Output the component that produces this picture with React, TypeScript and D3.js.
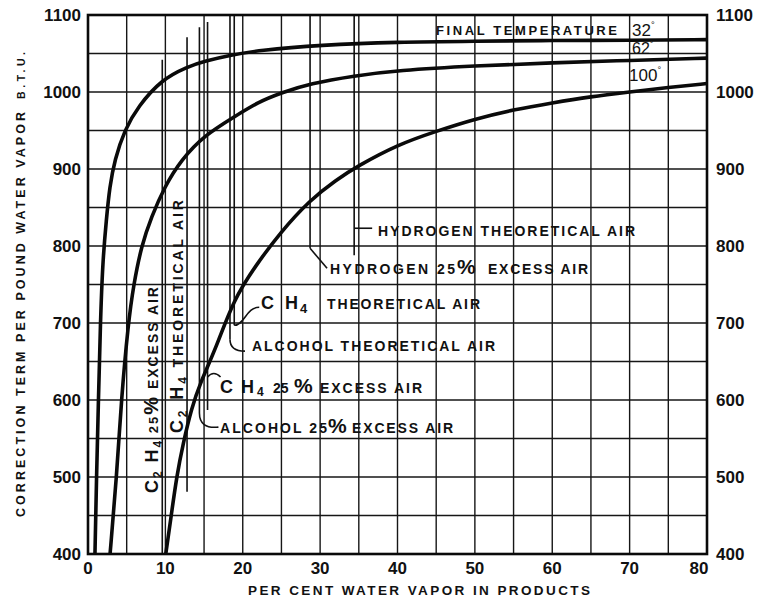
import React, { useRef, useEffect } from "react";
import * as d3 from "d3";

// axis ticks
const xTicks = [0, 10, 20, 30, 40, 50, 60, 70, 80];
const yTicks = [400, 500, 600, 700, 800, 900, 1000, 1100];

// correction term curves, [per cent water vapor, B.T.U.]
const curve32: [number, number][] = [
  [0.9, 400], [1.1, 500], [1.35, 600], [1.6, 700], [1.9, 780], [2.37, 834],
  [2.8, 877], [3.45, 912], [4.74, 951], [6.46, 981], [9.47, 1016], [12.9, 1033],
  [15.07, 1040], [18.5, 1048], [22, 1054], [30, 1061], [40, 1065], [50, 1066],
  [60, 1067], [70, 1067], [80, 1068],
];
const curve62: [number, number][] = [
  [2.85, 400], [3.7, 500], [4.3, 600], [5.2, 700], [5.9, 750], [6.9, 800],
  [8.2, 838], [9.9, 877], [12.05, 912], [15.07, 944], [18.95, 968], [22, 987],
  [25, 999], [28.7, 1011], [34.4, 1021], [40, 1028], [50, 1034], [60, 1038],
  [70, 1041], [80, 1044],
];
const curve100: [number, number][] = [
  [10.05, 400], [10.8, 453], [11.45, 500], [12.3, 544], [13.4, 590], [14.5, 622],
  [16.6, 669], [18.8, 730], [21.7, 775], [24.8, 817], [28.7, 860], [32.1, 886],
  [34.7, 903], [40.1, 932], [45, 949], [50, 965], [55, 977], [60, 986],
  [65, 994], [70, 1000], [75, 1006], [80, 1011],
];

// vertical fuel lines: x position, top and bottom in B.T.U.
const fuelNames = [
  "C2H4 25% excess", "C2H4 theoretical", "Alcohol 25% excess", "CH4 25% excess",
  "Alcohol theoretical", "CH4 theoretical", "Hydrogen 25% excess", "Hydrogen theoretical",
];
const fuelX = [9.6, 12.8, 14.4, 15.45, 18.35, 18.9, 28.7, 34.4];
const fuelTop = [1042, 1071, 1084, 1091, 1100, 1100, 1100, 1100];
const fuelBottom = [400, 481, 583, 587, 679, 697, 797, 788];

const W = 769;
const H = 601;
const FONT = "'Liberation Sans', Arial, sans-serif";

type Piece = { t: string; fs: number; dy?: number; x?: number; len?: number };

const App: React.FC = () => {
  const svgRef = useRef<SVGSVGElement>(null);

  useEffect(() => {
    if (!svgRef.current) return;
    const svg = d3.select(svgRef.current);
    svg.selectAll("*").remove();

    const x = d3.scaleLinear().domain([0, 80]).range([88, 707]);
    const y = d3.scaleLinear().domain([400, 1100]).range([554, 15]);

    svg.append("rect").attr("width", W).attr("height", H).attr("fill", "#fff");

    // grid
    const grid = svg.append("g").attr("stroke", "#161616").attr("stroke-width", 1.4);
    grid.selectAll("line.v")
      .data(d3.range(5, 80, 5))
      .join("line")
      .attr("x1", (d) => x(d)).attr("x2", (d) => x(d))
      .attr("y1", y(1100)).attr("y2", y(400));
    grid.selectAll("line.h")
      .data(d3.range(450, 1100, 50))
      .join("line")
      .attr("x1", x(0)).attr("x2", x(80))
      .attr("y1", (d) => y(d)).attr("y2", (d) => y(d));

    // fuel lines
    const fuel = svg.append("g").attr("stroke", "#111").attr("stroke-width", 1.6).attr("fill", "none");
    fuel.selectAll("line")
      .data(fuelNames)
      .join("line")
      .attr("x1", (_, i) => x(fuelX[i])).attr("x2", (_, i) => x(fuelX[i]))
      .attr("y1", (_, i) => y(fuelTop[i])).attr("y2", (_, i) => y(fuelBottom[i]));

    // leaders to the labels
    const lx = (i: number) => x(fuelX[i]);
    const lb = (i: number) => y(fuelBottom[i]);
    const leaders = [
      `M${lx(2)},${lb(2)} Q${lx(2)},${lb(2) + 16} ${lx(2) + 19},${lb(2) + 14}`,
      `M${lx(3)},${lb(3) - 33} Q${lx(3) + 6},${lb(3) - 40} ${lx(3) + 13},${lb(3) - 33}`,
      `M${lx(4)},${lb(4)} Q${lx(4)},${lb(4) + 12} ${lx(4) + 15},${lb(4) + 12}`,
      `M${lx(5)},${lb(5)} C${lx(5) + 10},${lb(5)} ${lx(5) + 12},${lb(5) - 18} ${lx(5) + 25},${lb(5) - 18}`,
      `M${lx(6)},${lb(6)} L${lx(6) + 17},${lb(6) + 20}`,
      `M${lx(7)},${lb(7) - 27} L${lx(7) + 18},${lb(7) - 27}`,
    ];
    fuel.selectAll("path").data(leaders).join("path").attr("d", (d) => d);

    // curves
    const line = d3.line<[number, number]>()
      .x((d) => x(d[0]))
      .y((d) => y(d[1]))
      .curve(d3.curveBasis);
    svg.selectAll("path.curve")
      .data([curve32, curve62, curve100])
      .join("path")
      .attr("class", "curve")
      .attr("fill", "none")
      .attr("stroke", "#0a0a0a")
      .attr("stroke-width", 3.6)
      .attr("d", (d) => line(d));

    // frame
    svg.append("rect")
      .attr("x", x(0)).attr("y", y(1100))
      .attr("width", x(80) - x(0)).attr("height", y(400) - y(1100))
      .attr("fill", "none").attr("stroke", "#0a0a0a").attr("stroke-width", 2.6);

    const txt = svg.append("g")
      .attr("font-family", FONT)
      .attr("font-weight", "bold")
      .attr("fill", "#111");

    // tick labels
    txt.selectAll("text.yl")
      .data(yTicks)
      .join("text")
      .attr("x", 81).attr("y", (d) => y(d) + 6)
      .attr("text-anchor", "end").attr("font-size", 17)
      .text((d) => d);
    txt.selectAll("text.yr")
      .data(yTicks)
      .join("text")
      .attr("class", "yr")
      .attr("x", 716).attr("y", (d) => y(d) + 6)
      .attr("font-size", 17)
      .text((d) => d);
    txt.selectAll("text.xl")
      .data(xTicks)
      .join("text")
      .attr("class", "xl")
      .attr("x", (d) => x(d) - (d === 80 ? 8 : 0)).attr("y", 574)
      .attr("text-anchor", "middle").attr("font-size", 17)
      .text((d) => d);

    // axis titles
    const yt = txt.append("text")
      .attr("transform", "translate(25,517) rotate(-90)")
      .attr("font-size", 12.5);
    yt.append("tspan").attr("textLength", 405).text("CORRECTION TERM PER POUND WATER VAPOR");
    yt.append("tspan").attr("dx", 10).attr("font-size", 10.5).attr("textLength", 47).text("B.T.U.");
    txt.append("text")
      .attr("x", 248).attr("y", 595)
      .attr("font-size", 13.5).attr("textLength", 342)
      .text("PER CENT WATER VAPOR IN PRODUCTS");

    // temperature labels
    txt.append("text").attr("x", 436).attr("y", 35).attr("font-size", 13)
      .attr("textLength", 181).text("FINAL TEMPERATURE");
    const deg = (t: string, px: number, py: number, fs: number) => {
      const e = txt.append("text").attr("x", px).attr("y", py).attr("font-size", fs).attr("font-weight", "normal");
      e.append("tspan").text(t);
      e.append("tspan").attr("dy", -fs * 0.45).attr("font-size", fs * 0.55).text("°");
    };
    deg("32", 632, 36, 17);
    deg("62", 632, 54, 16);
    deg("100", 629, 81, 17);

    // fuel labels
    const label = (py: number, pieces: Piece[]) => {
      const e = txt.append("text").attr("y", py);
      pieces.forEach((p) => {
        const t = e.append("tspan").attr("font-size", p.fs).text(p.t);
        if (p.x !== undefined) t.attr("x", p.x);
        if (p.dy) t.attr("dy", p.dy);
        if (p.len) t.attr("textLength", p.len).attr("lengthAdjust", "spacing");
      });
    };
    label(236, [{ t: "HYDROGEN THEORETICAL AIR", fs: 14, x: 378, len: 257 }]);
    label(274, [
      { t: "HYDROGEN 25", fs: 14, x: 330, len: 125 },
      { t: "%", fs: 21, x: 457 },
      { t: "EXCESS AIR", fs: 14, x: 488, len: 100 },
    ]);
    label(309, [
      { t: "C", fs: 18, x: 261 },
      { t: "H", fs: 18, x: 285 },
      { t: "4", fs: 13, x: 300, dy: 4 },
      { t: "THEORETICAL AIR", fs: 14, x: 327, dy: -4, len: 153 },
    ]);
    label(351, [{ t: "ALCOHOL THEORETICAL AIR", fs: 14, x: 252, len: 243 }]);
    label(393, [
      { t: "C", fs: 18, x: 220 },
      { t: "H", fs: 18, x: 241 },
      { t: "4", fs: 12, x: 257, dy: 3 },
      { t: "25", fs: 14, x: 273, dy: -3 },
      { t: "%", fs: 21, x: 294 },
      { t: "EXCESS AIR", fs: 14, x: 320, len: 102 },
    ]);
    label(433, [
      { t: "ALCOHOL 25", fs: 14, x: 220, len: 107 },
      { t: "%", fs: 21, x: 328 },
      { t: "EXCESS AIR", fs: 14, x: 352, len: 101 },
    ]);

    // rotated C2H4 labels
    const rot = (px: number, py: number, len: number, rest: string, pct: boolean) => {
      const e = txt.append("text")
        .attr("transform", `translate(${px},${py}) rotate(-90)`)
        .attr("textLength", len).attr("lengthAdjust", "spacing");
      e.append("tspan").attr("font-size", 18).text("C");
      e.append("tspan").attr("font-size", 12).attr("dy", 4).text("2");
      e.append("tspan").attr("font-size", 18).attr("dy", -4).text(" H");
      e.append("tspan").attr("font-size", 12).attr("dy", 4).text("4");
      if (pct) {
        e.append("tspan").attr("font-size", 13).attr("dy", -4).text(" 25");
        e.append("tspan").attr("font-size", 20).text("%");
        e.append("tspan").attr("font-size", 14).text(rest);
      } else {
        e.append("tspan").attr("font-size", 14).attr("dy", -4).text(rest);
      }
    };
    rot(158, 493, 206, " EXCESS AIR", true);
    rot(183, 433, 233, " THEORETICAL AIR", false);

    return () => {
      svg.selectAll("*").remove();
    };
  }, []);

  return (
    <svg
      ref={svgRef}
      width={W}
      height={H}
      style={{ position: "absolute", left: 0, top: 0 }}
    ></svg>
  );
};

export default App;
